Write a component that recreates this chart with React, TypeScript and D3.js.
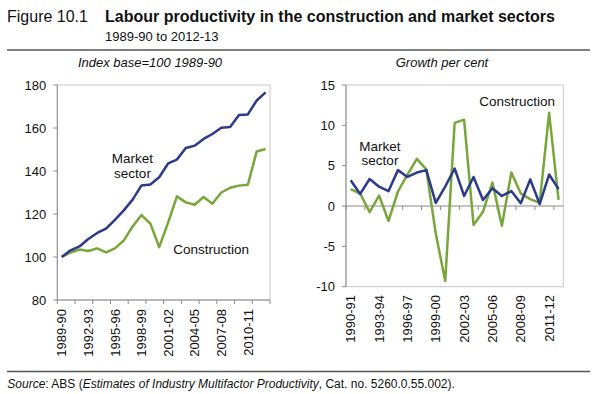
import React from "react";
import * as d3 from "d3";

const yearsIndex = ["1989-90","1990-91","1991-92","1992-93","1993-94","1994-95","1995-96","1996-97","1997-98","1998-99","1999-00","2000-01","2001-02","2002-03","2003-04","2004-05","2005-06","2006-07","2007-08","2008-09","2009-10","2010-11","2011-12","2012-13"];
const marketIndex = [100, 103.1, 104.9, 108.4, 111.2, 113.2, 117.3, 121.7, 126.7, 133.3, 133.7, 137.1, 143.5, 145.3, 150.7, 151.8, 154.9, 157.2, 160.1, 160.5, 166.0, 166.3, 172.8, 176.6];
const constructionIndex = [100, 102.1, 103.5, 102.8, 104.0, 102.1, 104.0, 107.7, 114.2, 119.5, 115.5, 104.6, 116.0, 128.2, 125.4, 124.3, 127.9, 124.8, 130.0, 132.2, 133.2, 133.6, 149.1, 150.2];
const indexTicks = [80, 100, 120, 140, 160, 180];

const yearsGrowth = yearsIndex.slice(1);
const marketGrowth = [3.2, 1.5, 3.35, 2.4, 1.85, 4.45, 3.6, 4.15, 4.45, 0.4, 2.4, 4.65, 1.25, 3.6, 0.75, 2.2, 1.25, 1.85, 0.35, 3.3, 0.25, 3.9, 2.1];
const constructionGrowth = [2.1, 1.55, -0.75, 1.3, -1.85, 1.8, 3.9, 5.85, 4.55, -3.4, -9.3, 10.3, 10.7, -2.35, -0.7, 2.9, -2.45, 4.15, 1.55, 0.85, 0.4, 11.55, 0.75];
const growthTicks = [-10, -5, 0, 5, 10, 15];

const BLUE = "#2b3a8c";
const GREEN = "#78a63a";
const FONT = "'Liberation Sans', Arial, sans-serif";

function Panel({ cats, series, ticks, domain, x0, x1, yTop, yBottom, labelEvery, axisAtZero, labelTop }: any) {
  const x = d3.scaleBand<string>().domain(cats).range([x0, x1]).paddingInner(0).paddingOuter(0);
  const y = d3.scaleLinear().domain(domain).range([yBottom, yTop]);
  const bw = x.bandwidth();
  const cx = (c: string) => (x(c) as number) + bw / 2;
  const line = d3.line<number>().x((_, i) => cx(cats[i])).y((v) => y(v));
  const axisY = axisAtZero ? y(0) : yBottom;
  const boundaries = d3.range(0, cats.length + 1, 2).map((k) => x0 + k * bw);
  return (
    <g>
      <rect x={x0} y={yTop} width={x1 - x0} height={yBottom - yTop} fill="none" stroke="#c8c8c8" strokeWidth={1} />
      <line x1={x0} x2={x0} y1={yTop} y2={yBottom} stroke="#8c8c8c" strokeWidth={1} />
      {ticks.map((t: number) => (
        <g key={t}>
          <line x1={x0 - 4} x2={x0} y1={y(t)} y2={y(t)} stroke="#8c8c8c" />
          <text x={x0 - 11} y={y(t)} dy="0.36em" textAnchor="end" fontSize={13} fontFamily={FONT} fill="#111">{t}</text>
        </g>
      ))}
      <line x1={x0} x2={x1} y1={axisY} y2={axisY} stroke="#8c8c8c" strokeWidth={1} />
      {boundaries.map((bx, i) => (
        <line key={i} x1={bx} x2={bx} y1={axisY} y2={axisY + 4} stroke="#8c8c8c" />
      ))}
      {cats.map((c: string, i: number) =>
        i % labelEvery === 0 ? (
          <text key={c} transform={`translate(${cx(c)},${labelTop}) rotate(-90)`} textAnchor="end" dy="0.36em" fontSize={13} fontFamily={FONT} fill="#111">{c}</text>
        ) : null
      )}
      {series.map((s: any, k: number) => (
        <path key={k} d={line(s.values) as string} fill="none" stroke={s.color} strokeWidth={2.5} strokeLinejoin="round" />
      ))}
    </g>
  );
}

export default function App() {
  return (
    <svg width={600} height={394} style={{ position: "absolute", left: 0, top: 0, background: "#fff" }}>
      <rect width={600} height={394} fill="#fff" />
      <text x={7} y={21.5} fontSize={16} fontFamily={FONT} fill="#111">Figure 10.1</text>
      <text x={105} y={21.5} fontSize={16} fontWeight="bold" fontFamily={FONT} fill="#111">Labour productivity in the construction and market sectors</text>
      <text x={105} y={40.5} fontSize={13} fontFamily={FONT} fill="#111">1989-90 to 2012-13</text>
      <line x1={7} x2={590} y1={50} y2={50} stroke="#555" strokeWidth={1.5} />
      <text x={150} y={67} textAnchor="middle" fontSize={13} fontStyle="italic" fontFamily={FONT} fill="#111">Index base=100 1989-90</text>
      <text x={442} y={67} textAnchor="middle" fontSize={13} fontStyle="italic" fontFamily={FONT} fill="#111">Growth per cent</text>

      <Panel cats={yearsIndex} series={[{ values: constructionIndex, color: GREEN }, { values: marketIndex, color: BLUE }]}
        ticks={indexTicks} domain={[80, 180]} x0={57.3} x1={270} yTop={85} yBottom={300} labelEvery={3} axisAtZero={false} labelTop={309} />
      <Panel cats={yearsGrowth} series={[{ values: constructionGrowth, color: GREEN }, { values: marketGrowth, color: BLUE }]}
        ticks={growthTicks} domain={[-10, 15]} x0={346} x1={563.3} yTop={85} yBottom={286.7} labelEvery={3} axisAtZero={true} labelTop={295} />

      <text x={132.5} y={163.3} textAnchor="middle" fontSize={13.5} fontFamily={FONT} fill="#111">Market</text>
      <text x={132.5} y={178.3} textAnchor="middle" fontSize={13.5} fontFamily={FONT} fill="#111">sector</text>
      <text x={173.3} y={254} fontSize={13.5} fontFamily={FONT} fill="#111">Construction</text>
      <text x={380} y={150.7} textAnchor="middle" fontSize={13.5} fontFamily={FONT} fill="#111">Market</text>
      <text x={380} y={165.3} textAnchor="middle" fontSize={13.5} fontFamily={FONT} fill="#111">sector</text>
      <text x={479.3} y={105.7} fontSize={13.5} fontFamily={FONT} fill="#111">Construction</text>

      <line x1={7} x2={590} y1={371.5} y2={371.5} stroke="#555" strokeWidth={1.5} />
      <text x={7.3} y={388} fontSize={12} fontFamily={FONT} fill="#111">
        <tspan fontStyle="italic">Source</tspan>: ABS (<tspan fontStyle="italic">Estimates of Industry Multifactor Productivity</tspan>, Cat. no. 5260.0.55.002).
      </text>
    </svg>
  );
}
